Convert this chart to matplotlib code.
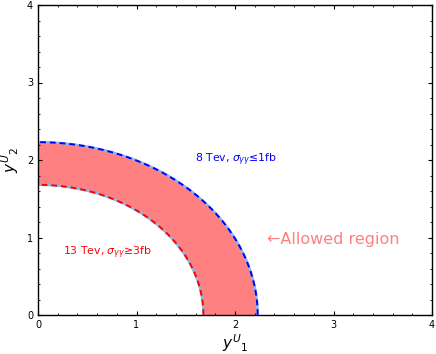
import numpy as np
import matplotlib
matplotlib.use("Agg")
import matplotlib.pyplot as plt
from matplotlib.ticker import MultipleLocator

# radii of the two bounds (y^U_1^2 + y^U_2^2 = r^2)
r_inner = 1.68   # 13 TeV, sigma >= 3 fb
r_outer = 2.23   # 8 TeV, sigma <= 1 fb
xticks = [0, 1, 2, 3, 4]
yticks = [0, 1, 2, 3, 4]

theta = np.linspace(0, np.pi / 2, 300)

fig = plt.figure(figsize=(4.36, 3.54), dpi=100)
ax = fig.add_axes([38 / 436, 39 / 354, 394 / 436, 310 / 354])

xo, yo = r_outer * np.cos(theta), r_outer * np.sin(theta)
xi, yi = r_inner * np.cos(theta), r_inner * np.sin(theta)

ax.fill(np.concatenate([xo, xi[::-1]]), np.concatenate([yo, yi[::-1]]),
        color="#ff8080", lw=0, zorder=1)

for x, y, c in [(xo, yo, "blue"), (xi, yi, "red")]:
    ax.plot(x, y, color="#8fb6e0", lw=1.8, zorder=2)
    ax.plot(x, y, color=c, lw=1.4, ls=(0, (3, 2)), zorder=3)

ax.text(1.59, 2.0, r"8 Tev, $\sigma_{\gamma\gamma}$≤1fb", color="blue",
        fontsize=7.8, va="center")
ax.text(0.25, 0.8, r"13 Tev, $\sigma_{\gamma\gamma}$≥3fb", color="red",
        fontsize=7.8, va="center")
ax.text(2.32, 0.98, "←Allowed region", color="#ff8080", fontsize=11.5,
        va="center")

ax.set_xlim(0, 4)
ax.set_ylim(0, 4)
ax.set_xticks(xticks)
ax.set_yticks(yticks)
ax.xaxis.set_minor_locator(MultipleLocator(0.2))
ax.yaxis.set_minor_locator(MultipleLocator(0.2))
ax.tick_params(which="both", direction="in", top=True, right=True,
               labelsize=7)
ax.tick_params(which="major", length=3, width=0.8)
ax.tick_params(which="minor", length=1.5, width=0.6)
for s in ax.spines.values():
    s.set_linewidth(1.0)

ax.set_xlabel(r"$y^{U}{}_{1}$", fontsize=11, labelpad=2)
ax.set_ylabel(r"$y^{U}{}_{2}$", fontsize=11, labelpad=4)

fig.savefig("out.png", dpi=100)
